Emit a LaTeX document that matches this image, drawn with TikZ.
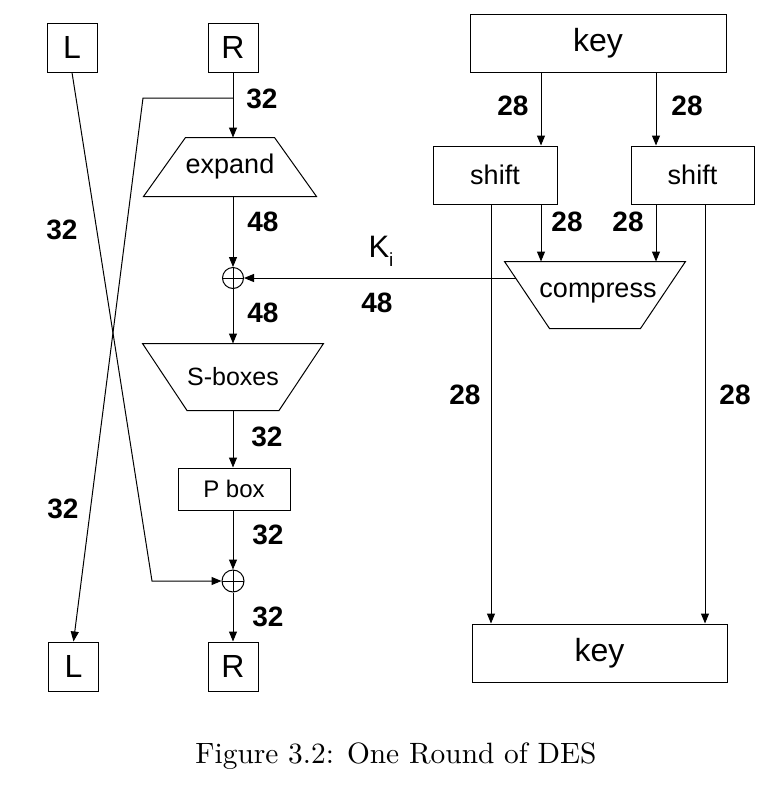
\documentclass[tikz,border=0pt]{standalone}
\usepackage{fontspec}
\usepackage{graphicx}
\newfontfamily\hv{Liberation Sans}
\usetikzlibrary{shapes.geometric,arrows.meta,calc}
\begin{document}
\begin{tikzpicture}[x=1pt,y=-1pt,line width=1pt,
  arr/.style={-{Triangle[length=10pt,width=8pt]}},
  boxnode/.style={draw,rectangle,inner sep=0pt,font=\hv\fontsize{27}{32}\selectfont},
  lrbox/.style={boxnode,minimum width=50pt,minimum height=49pt,font=\hv\fontsize{32}{38}\selectfont},
  keybox/.style={boxnode,minimum width=256pt,minimum height=58pt,font=\hv\fontsize{32}{38}\selectfont},
  shiftbox/.style={boxnode,minimum width=124pt,minimum height=58pt},
  trapframe/.style={rectangle,inner sep=0pt,font=\hv\fontsize{27}{32}\selectfont},
  xorop/.style={draw,circle,inner sep=0pt,minimum size=21pt,
    path picture={\draw (path picture bounding box.north) -- (path picture bounding box.south)
      (path picture bounding box.west) -- (path picture bounding box.east);}},
  num/.style={inner sep=0pt,font=\hv\bfseries\fontsize{28}{32}\selectfont}]
\useasboundingbox (0,0) rectangle (776,796);

% left (Feistel) part
\node[lrbox] (Ltop) at (72,47.5) {L};
\node[lrbox] (Rtop) at (233,47.5) {R};
\node[lrbox] (Lbot) at (73.5,666.5) {L};
\node[lrbox] (Rbot) at (233,666.5) {R};
\node[trapframe,minimum width=172pt,minimum height=58pt] (expand) at (230,167) {expand};
\draw ($(expand.north west)+(42,0)$) -- ($(expand.north east)+(-42,0)$)
  -- (expand.south east) -- (expand.south west) -- cycle;
\node[xorop] (xor1) at (233,278) {};
\node[trapframe,minimum width=180pt,minimum height=66pt,font=\hv\fontsize{25}{30}\selectfont] (sbox) at (233,377) {S-boxes};
\draw (sbox.north west) -- (sbox.north east) -- ($(sbox.south east)+(-44.5,0)$)
  -- ($(sbox.south west)+(44.5,0)$) -- cycle;
\node[boxnode,minimum width=112pt,minimum height=42pt,font=\hv\fontsize{24}{29}\selectfont] (pbox) at (234,489) {P box};
\node[xorop,minimum size=22pt] (xor2) at (233,581) {};

% key schedule part
\node[keybox] (keytop) at (598,43) {key};
\node[shiftbox] (shiftL) at (495,175) {shift};
\node[shiftbox,minimum width=123pt] (shiftR) at (692.5,175) {shift};
\node[trapframe,minimum width=180pt,minimum height=66pt] (compress) at (595,295) {};
\draw (compress.north west) -- (compress.north east) -- ($(compress.south east)+(-45,0)$)
  -- ($(compress.south west)+(45,0)$) -- cycle;
\node[inner sep=0pt,font=\hv\fontsize{27}{32}\selectfont] (comptext) at (598,293) {compress};
\node[keybox,minimum width=255pt] (keybot) at (599.5,653) {key};

% helper coordinates
\coordinate (br) at (233,98);
\coordinate (bk) at (143,98);
\coordinate (lk) at (152,581);
\coordinate (kin) at (516,278);
\coordinate (xa) at (541,0);
\coordinate (xb) at (656,0);
\coordinate (xc) at (491,0);
\coordinate (xd) at (705,0);

% connectors
\draw[arr] (Rtop.south) -- (Rtop.south |- expand.north);
\draw[arr] (br) -- (bk) -- (Lbot.north);
\draw[arr] (Ltop.south) -- (lk) -- (xor2.west);
\draw[arr] (xor1.north |- expand.south) -- (xor1.north);
\draw[arr] (xor1.south) -- (sbox.north);
\draw[arr] (sbox.south) -- (pbox.north -| sbox.south);
\draw[arr] (pbox.south -| xor2.north) -- (xor2.north);
\draw[arr] (xor2.south) -- (Rbot.north);
\draw[arr] (kin) -- (xor1.east);
\draw[arr] (xa |- keytop.south) -- (xa |- shiftL.north);
\draw[arr] (xb |- keytop.south) -- (xb |- shiftR.north);
\draw[arr] (xa |- shiftL.south) -- (xa |- compress.north);
\draw[arr] (xb |- shiftR.south) -- (xb |- compress.north);
\draw[arr] (xc |- shiftL.south) -- (xc |- keybot.north);
\draw[arr] (xd |- shiftR.south) -- (xd |- keybot.north);

% labels
\node[num] (n1) at (262,99) {32};
\node[num] (n2) at (263,222) {48};
\node[num] (n3) at (263,313) {48};
\node[num] (n4) at (62,230) {32};
\node[num] (n5) at (267,437) {32};
\node[num] (n6) at (268,535) {32};
\node[num] (n7) at (268,617) {32};
\node[num] (n8) at (63,509) {32};
\node[num] (n9) at (377,303) {48};
\node[num] (k1) at (513,106) {28};
\node[num] (k2) at (687,106) {28};
\node[num] (k3) at (567,222) {28};
\node[num] (k4) at (628,222) {28};
\node[num] (k5) at (465,395) {28};
\node[num] (k6) at (735,395) {28};
\node[inner sep=0pt,anchor=base west,font=\hv\fontsize{31}{36}\selectfont] (ki) at (368,257)
  {K\raisebox{-9pt}{\fontsize{19}{22}\selectfont i}};

% caption
\node[inner sep=0pt,anchor=base] (cap) at (396,763) {\scalebox{2.94}{Figure 3.2: One Round of DES}};
\end{tikzpicture}
\end{document}
